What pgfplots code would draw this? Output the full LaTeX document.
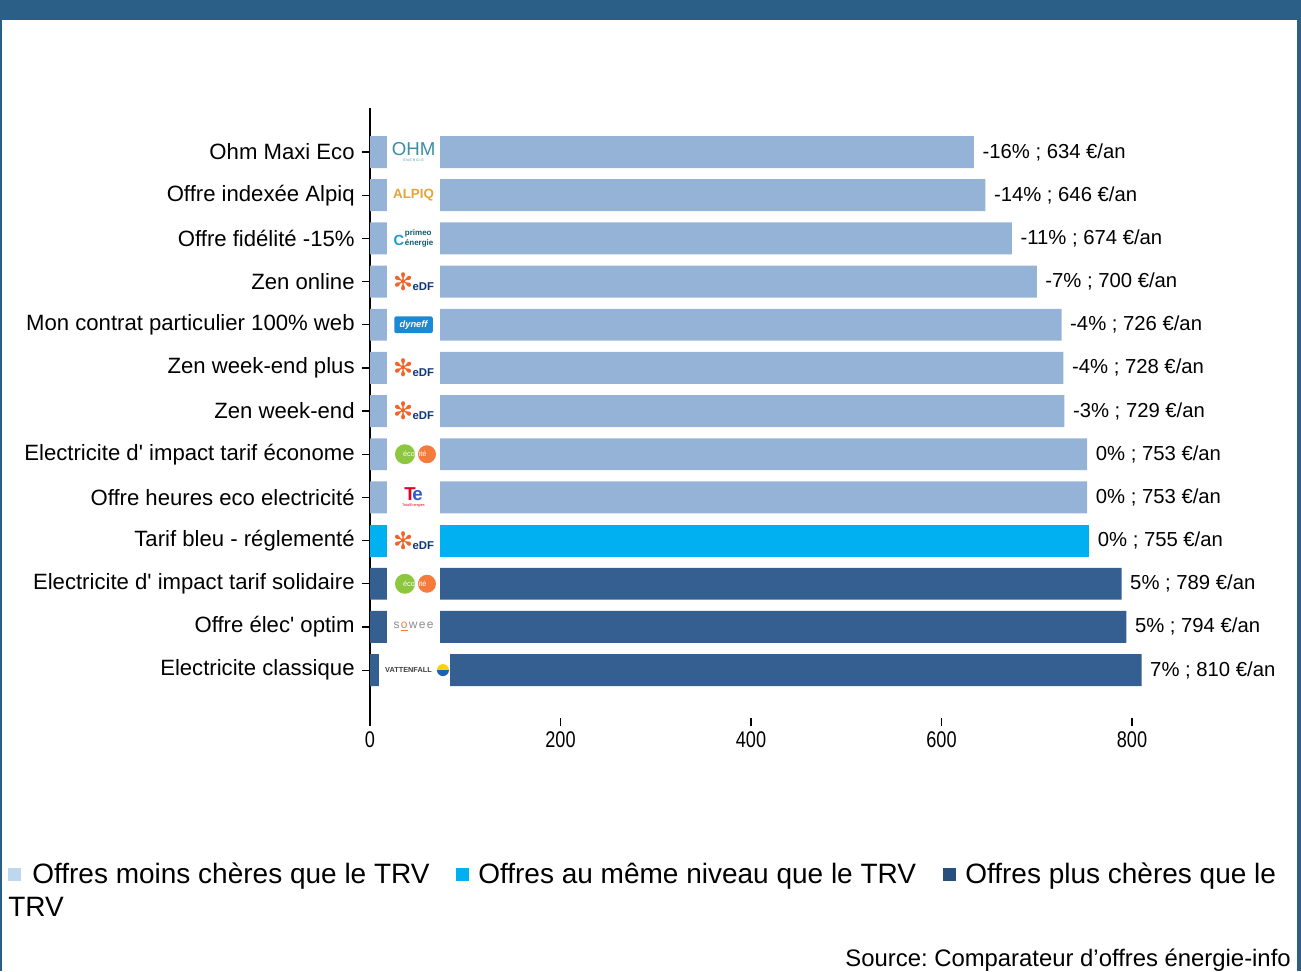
\documentclass[border=0pt]{standalone}
\usepackage{fontspec}
\setmainfont{Liberation Sans}
\newfontfamily\dejavu{DejaVu Sans}
\usepackage{graphicx}
\usepackage{pgfplots}
\pgfplotsset{compat=1.18}
\frenchspacing

\definecolor{band}{HTML}{2B5F87}
\definecolor{lightbar}{HTML}{95B3D7}
\definecolor{trvbar}{HTML}{00B0F0}
\definecolor{darkbar}{HTML}{365F91}
\definecolor{leglight}{HTML}{BDD7EE}
\definecolor{legdark}{HTML}{28507D}
\definecolor{edforange}{HTML}{F0642A}
\definecolor{edfblue}{HTML}{10367A}
\definecolor{ohmteal}{HTML}{3A8FA0}
\definecolor{alpiqgold}{HTML}{E3A53A}
\definecolor{primeoteal}{HTML}{0D5E6B}
\definecolor{primeoblue}{HTML}{1E9BD7}
\definecolor{dynblue}{HTML}{1A8AD4}
\definecolor{ecogreen}{HTML}{8DC63F}
\definecolor{ecoorange}{HTML}{F47B3B}
\definecolor{tred}{HTML}{E4002B}
\definecolor{tblue}{HTML}{2C5DC9}
\definecolor{soweegray}{HTML}{8C8C8C}
\definecolor{vyellow}{HTML}{FFD200}
\definecolor{vblue}{HTML}{1964B4}

% ";" inside point meta breaks the coordinate stream, so hide it
\protected\def\semi{;}

% logos written as text
\newcommand{\edflogo}{{\color{edforange}\dejavu\fontsize{18}{18}\selectfont ✻}\kern-0.5pt{\color{edfblue}\bfseries\fontsize{8.5}{8.5}\selectfont eDF}}
\newcommand{\ohmlogo}{\shortstack{{\color{ohmteal}\fontsize{14}{14}\selectfont OHM}\\[-1pt]{\color{ohmteal}\fontsize{2.5}{3}\selectfont É N E R G I E}}}
\newcommand{\alpiqlogo}{{\color{alpiqgold}\bfseries\fontsize{10}{10}\selectfont ALPIQ}}
\newcommand{\primeologo}{{\color{primeoblue}\bfseries\fontsize{11}{11}\selectfont C}\kern0.5pt\shortstack[l]{{\color{primeoteal}\bfseries\fontsize{6}{6}\selectfont primeo}\\[-1.5pt]{\color{primeoteal}\bfseries\fontsize{6}{6}\selectfont énergie}}}
\newcommand{\totallogo}{\shortstack{{\color{tred}\bfseries\fontsize{14}{12}\selectfont T}\kern-2.5pt{\color{tblue}\bfseries\fontsize{14}{12}\selectfont e}\\[-1pt]{\color{tred}\fontsize{2.8}{3}\selectfont TotalEnergies}}}
\newcommand{\soweelogo}{{\color{soweegray}\fontsize{9}{9}\selectfont s\kern1pt}{\color{ecoorange}\fontsize{9}{9}\selectfont \underline{o}}{\color{soweegray}\fontsize{9}{9}\selectfont \kern1pt w\kern1pt e\kern1pt e}}

\begin{document}
\begin{tikzpicture}
\path (0pt,0pt) rectangle (975.75pt,-728.25pt);
\fill[band] (0pt,0pt) rectangle (975.75pt,-15pt);
\fill[band] (0pt,0pt) rectangle (1.5pt,-728.25pt);
\fill[band] (972.75pt,0pt) rectangle (975.75pt,-728.25pt);

\begin{axis}[
at={(277.5pt,-538.5pt)}, anchor=south west,
scale only axis, width=614.36pt, height=457.5pt,
xmin=0, xmax=860, ymin=-1.02, ymax=13.11,
y dir=reverse,
xbar, bar shift=0pt, bar width=0.74,
axis lines*=left,
x axis line style={draw=none},
tick align=outside, major tick length=6pt,
tick style={black, line width=0.9pt},
axis line style={black, line width=1.1pt},
xtick={0,200,400,600,800},
xticklabel={\scalebox{0.8}[1]{\pgfmathprintnumber{\tick}}},
ytick={0,...,12},
yticklabels={Ohm Maxi Eco,Offre indexée Alpiq,Offre fidélité -15\%,Zen online,Mon contrat particulier 100\% web,Zen week-end plus,Zen week-end,Electricite d\textquotesingle{} impact tarif économe,Offre heures eco electricité,Tarif bleu - réglementé\ ,Electricite d\textquotesingle{} impact tarif solidaire,Offre élec\textquotesingle{} optim,Electricite classique},
yticklabel style={font=\fontsize{16.6}{19}\selectfont, xshift=-2pt},
xticklabel style={font=\fontsize{17}{19}\selectfont, yshift=-0.5pt},
/pgf/number format/assume math mode=true,
clip=false,
point meta=explicit symbolic,
nodes near coords={\pgfplotspointmeta},
nodes near coords style={anchor=west, xshift=3pt, font=\fontsize{15.2}{18}\selectfont, black},
]
\addplot[fill=lightbar, draw=none] coordinates {
(634,0) [-16\% \semi{} 634 €/an]
(646,1) [-14\% \semi{} 646 €/an]
(674,2) [-11\% \semi{} 674 €/an]
(700,3) [-7\% \semi{} 700 €/an]
(726,4) [-4\% \semi{} 726 €/an]
(728,5) [-4\% \semi{} 728 €/an]
(729,6) [-3\% \semi{} 729 €/an]
(753,7) [0\% \semi{} 753 €/an]
(753,8) [0\% \semi{} 753 €/an]
};
\addplot[fill=trvbar, draw=none] coordinates {
(755,9) [0\% \semi{} 755 €/an]
};
\addplot[fill=darkbar, draw=none] coordinates {
(789,10) [5\% \semi{} 789 €/an]
(794,11) [5\% \semi{} 794 €/an]
(810,12) [7\% \semi{} 810 €/an]
};

% white logo boxes over the bars
\pgfplotsinvokeforeach{0,...,11}{
  \fill[white] (axis cs:17.8,#1-0.39) rectangle (axis cs:73.5,#1+0.39);
}
\fill[white] (axis cs:9.4,11.61) rectangle (axis cs:84,12.39);

\node at (axis cs:45.7,0) {\ohmlogo};
\node at (axis cs:45.7,1) {\alpiqlogo};
\node at (axis cs:45.7,2) {\primeologo};
\node at (axis cs:45.7,3) {\edflogo};
\node[fill=dynblue, rounded corners=1.5pt, text=white, font=\bfseries\itshape\fontsize{7}{7}\selectfont, inner xsep=4pt, inner ysep=3pt] at (axis cs:45.7,4) {dyneff};
\node at (axis cs:45.7,5) {\edflogo};
\node at (axis cs:45.7,6) {\edflogo};
\pgfplotsinvokeforeach{7,10}{
  \fill[ecogreen] (axis cs:36.7,#1) circle[radius=7.5pt];
  \fill[ecoorange] (axis cs:59.8,#1) circle[radius=6.75pt];
  \node[text=white, font=\fontsize{5.5}{6}\selectfont] at (axis cs:47,#1) {écocité};
}
\node at (axis cs:45.7,8) {\totallogo};
\node at (axis cs:45.7,9) {\edflogo};
\node at (axis cs:45.7,11) {\soweelogo};
\node[text=black!75, font=\bfseries\fontsize{5.5}{6}\selectfont] at (axis cs:40.4,12) {VATTENFALL};
\fill[vyellow] (axis cs:76.6,12) ++(-4.5pt,0pt) arc[start angle=180, end angle=0, radius=4.5pt] -- cycle;
\fill[vblue] (axis cs:76.6,12) ++(-4.5pt,0pt) arc[start angle=180, end angle=360, radius=4.5pt] -- cycle;
\end{axis}

% legend
\fill[leglight] (6pt,-651pt) rectangle (15.75pt,-660.75pt);
\node[anchor=base west, inner sep=0pt, font=\fontsize{21}{24}\selectfont] at (24pt,-662.5pt) {Offres moins chères que le TRV};
\fill[trvbar] (342pt,-651pt) rectangle (351.75pt,-660.75pt);
\node[anchor=base west, inner sep=0pt, font=\fontsize{21}{24}\selectfont] at (358.5pt,-662.5pt) {Offres au même niveau que le TRV};
\fill[legdark] (707.25pt,-651pt) rectangle (717pt,-660.75pt);
\node[anchor=base west, inner sep=0pt, font=\fontsize{21}{24}\selectfont] at (723.75pt,-662.5pt) {Offres plus chères que le};
\node[anchor=base west, inner sep=0pt, font=\fontsize{21}{24}\selectfont] at (6pt,-687.5pt) {TRV};
\node[anchor=base east, inner sep=0pt, font=\fontsize{17.9}{20}\selectfont] at (968.25pt,-724.5pt) {Source: Comparateur d’offres énergie-info};
\end{tikzpicture}
\end{document}
